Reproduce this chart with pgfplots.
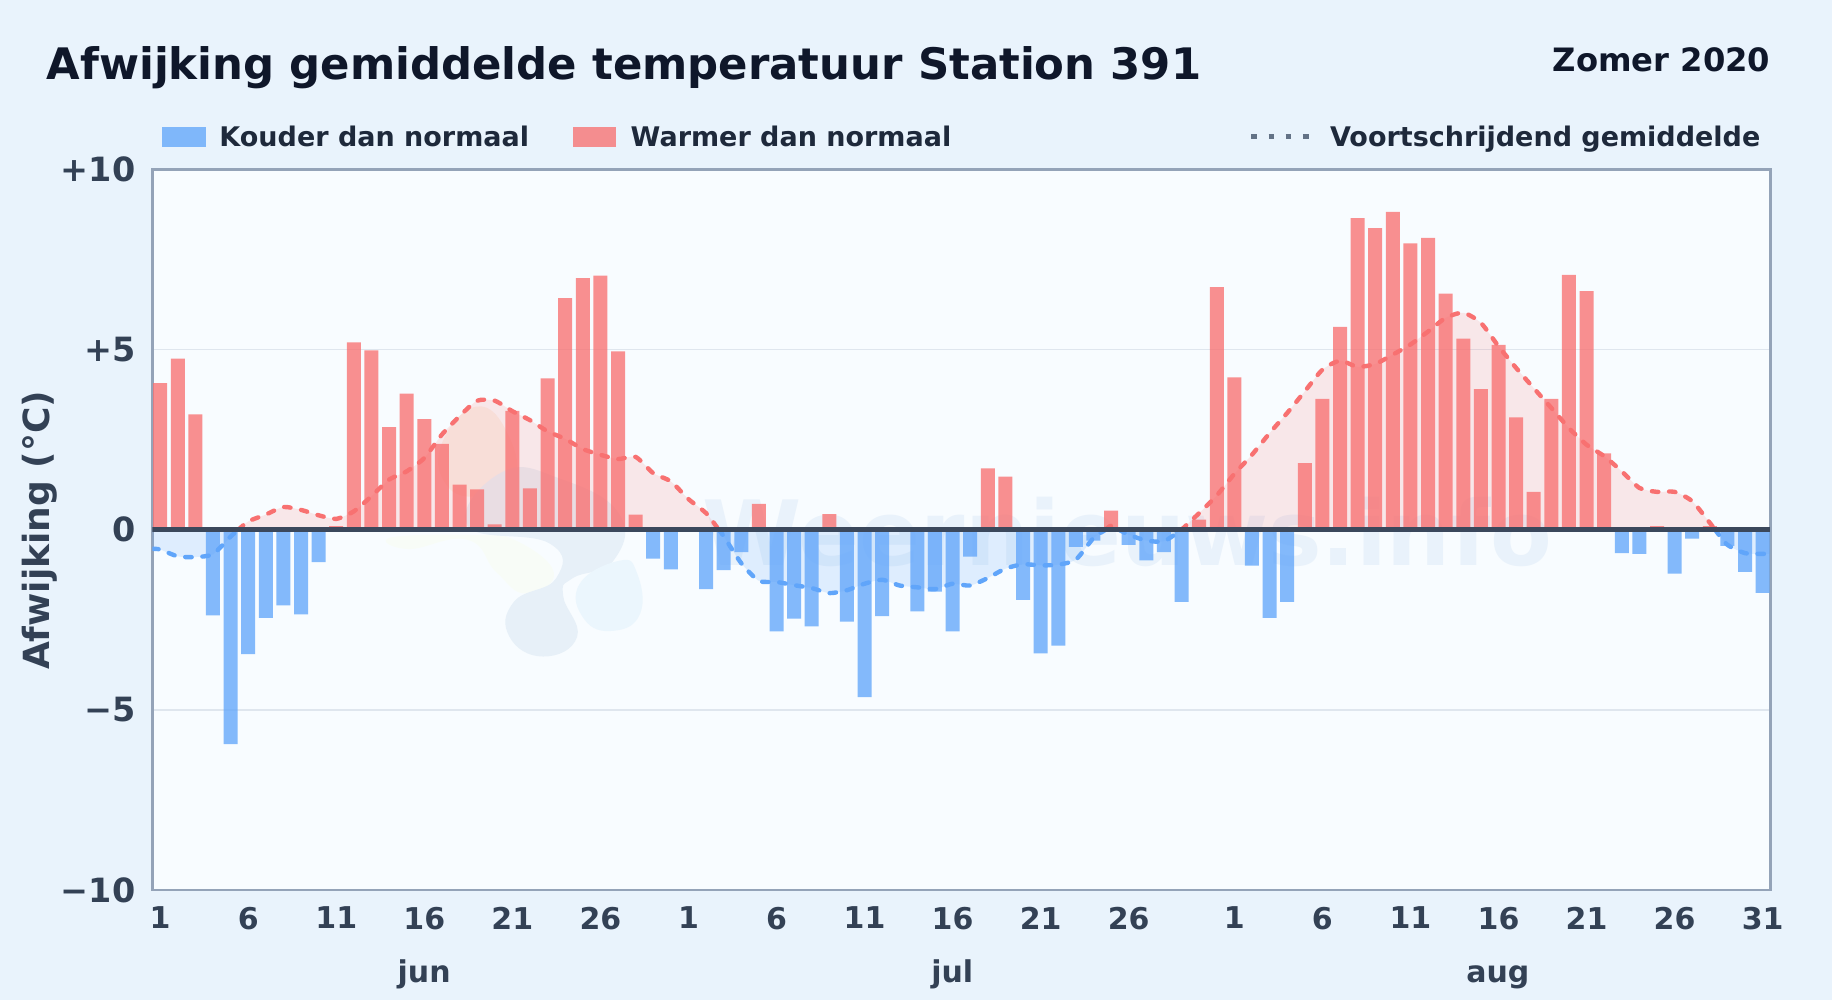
\documentclass[border=0pt]{standalone}
\usepackage{fontspec}
\setmainfont{DejaVu Sans}
\usepackage{pgfplots}
\usepackage{pgfplotstable}
\pgfplotsset{compat=1.18}

\definecolor{bgpage}{HTML}{E9F3FC}
\definecolor{bgplot}{HTML}{F8FCFF}
\definecolor{coldbar}{HTML}{60A5FA}
\definecolor{warmbar}{HTML}{F87171}
\definecolor{title}{HTML}{0F172A}
\definecolor{legtext}{HTML}{1E293B}
\definecolor{tick}{HTML}{334155}
\definecolor{frame}{HTML}{94A3B8}
\definecolor{gridc}{HTML}{DFE6EE}
\definecolor{zero}{HTML}{3B485C}
\definecolor{mark}{HTML}{E9F2FB}

% dagafwijking, dag 0 = 1 jun, dag 91 = 31 aug
\pgfplotstableread{
x y
0 4.07
1 4.75
2 3.2
10 0.1
11 5.2
12 4.98
13 2.85
14 3.78
15 3.07
16 2.38
17 1.25
18 1.12
19 0.15
20 3.3
21 1.15
22 4.2
23 6.43
24 6.98
25 7.05
26 4.95
27 0.42
34 0.72
38 0.43
47 1.7
48 1.47
54 0.53
59 0.28
60 6.73
61 4.23
65 1.85
66 3.63
67 5.63
68 8.65
69 8.37
70 8.82
71 7.95
72 8.1
73 6.55
74 5.3
75 3.9
76 5.13
77 3.12
78 1.05
79 3.63
80 7.07
81 6.62
82 2.12
85 0.1
88 0.1
}\warmbars

\pgfplotstableread{
x y
3 -2.38
4 -5.95
5 -3.45
6 -2.45
7 -2.1
8 -2.35
9 -0.9
28 -0.8
29 -1.1
31 -1.65
32 -1.12
33 -0.62
35 -2.82
36 -2.47
37 -2.68
39 -2.55
40 -4.65
41 -2.4
43 -2.27
44 -1.72
45 -2.82
46 -0.75
49 -1.95
50 -3.43
51 -3.22
52 -0.48
53 -0.3
55 -0.42
56 -0.85
57 -0.62
58 -2.0
62 -1.0
63 -2.45
64 -2.0
83 -0.65
84 -0.67
86 -1.22
87 -0.25
89 -0.45
90 -1.17
91 -1.75
}\coldbars

% voortschrijdend gemiddelde, per stuk boven of onder nul
\pgfplotstableread{
x y
-0.45 -0.53
0 -0.55
1 -0.74
2 -0.76
3 -0.68
4 -0.19
4.45 0
}\coldA
\pgfplotstableread{
x y
4.45 0
5 0.23
6 0.42
7 0.63
8 0.55
9 0.4
10 0.3
11 0.51
12 0.93
13 1.39
14 1.62
15 1.99
16 2.64
17 3.15
18 3.58
19 3.58
20 3.29
21 3.04
22 2.73
23 2.52
24 2.24
25 2.08
26 1.96
27 2.02
28 1.57
29 1.34
30 0.85
31 0.46
31.72 0
}\warmA
\pgfplotstableread{
x y
31.72 0
32 -0.18
33 -0.93
34 -1.42
35 -1.45
36 -1.54
37 -1.62
38 -1.76
39 -1.68
40 -1.5
41 -1.39
42 -1.55
43 -1.6
44 -1.65
45 -1.5
46 -1.55
47 -1.34
48 -1.08
49 -0.96
50 -0.99
51 -0.97
52 -0.83
53 -0.23
53.7 0
}\coldB
\pgfplotstableread{
x y
53.7 0
54 0.11
54.45 0
}\warmB
\pgfplotstableread{
x y
54.45 0
55 -0.14
56 -0.3
57 -0.32
58 0
}\coldC
\pgfplotstableread{
x y
58 0
59 0.46
60 0.95
61 1.55
62 2.08
63 2.68
64 3.24
65 3.84
66 4.44
67 4.69
68 4.52
69 4.6
70 4.86
71 5.14
72 5.5
73 5.88
74 6.02
75 5.74
76 5.09
77 4.49
78 3.93
79 3.38
80 2.82
81 2.36
82 2.04
83 1.62
84 1.16
85 1.05
86 1.05
87 0.79
88 0.19
88.3 0
}\warmC
\pgfplotstableread{
x y
88.3 0
89 -0.42
90 -0.65
91 -0.67
91.45 -0.67
}\coldD

\begin{document}
\begin{tikzpicture}
\begin{scope}[x=0.58418pt,y=-0.58411pt,shift={(0pt,500pt)}]
  \path[use as bounding box,fill=bgpage] (0,0) rectangle (1568,856);
  \fill[bgplot] (130.5,145) rectangle (1515.5,762);
  % watermerk: logo en naam
  \fill[color=orange!8!bgplot] plot[smooth cycle,tension=.8] coordinates {(408,348) (435,372) (440,412) (410,425) (382,415) (378,380)};
  \fill[color=green!4!yellow!3!bgplot] plot[smooth cycle,tension=.8] coordinates {(335,460) (405,458) (440,462) (474,490) (450,508) (425,490) (400,462) (350,470)};
  \fill[color=mark!80!gridc] plot[smooth cycle,tension=.8] coordinates {(430,404) (480,410) (530,440) (525,480) (490,495) (482,510) (494,545) (465,562) (436,545) (440,515) (476,495) (470,465) (400,450)};
  \fill[color=cyan!5!bgplot] plot[smooth cycle,tension=.8] coordinates {(530,480) (545,490) (548,525) (525,540) (500,530) (496,500)};
  \node[anchor=base west,inner sep=0pt,text=mark,font=\fontsize{45}{45}\selectfont\bfseries] at (601,484) {Weernieuws.info};
\end{scope}

\begin{axis}[
  at={(76.2pt,55pt)},anchor=south west,
  scale only axis,width=809pt,height=360.3pt,
  xmin=-0.44,xmax=91.44,ymin=-10,ymax=10,
  axis line style={frame,line width=1.3pt},
  ymajorgrids,grid style={gridc,line width=0.8pt},
  xtick={0,5,10,15,20,25,30,35,40,45,50,55,61,66,71,76,81,86,91},
  xticklabels={1,6,11,16,21,26,1,6,11,16,21,26,1,6,11,16,21,26,31},
  ytick={-10,-5,0,5,10},
  yticklabels={−10,−5,0,+5,+10},
  tick style={draw=none},
  xticklabel style={font=\fontsize{15}{15}\selectfont\bfseries,text=tick,yshift=-5pt},
  yticklabel style={font=\fontsize{16.7}{16.7}\selectfont\bfseries,text=tick,xshift=-5pt},
]
  \addplot[draw=none,fill=warmbar,fill opacity=.15,smooth,tension=.4,forget plot] table {\warmA} \closedcycle;
  \addplot[draw=none,fill=warmbar,fill opacity=.15,smooth,tension=.4,forget plot] table {\warmB} \closedcycle;
  \addplot[draw=none,fill=warmbar,fill opacity=.15,smooth,tension=.4,forget plot] table {\warmC} \closedcycle;
  \addplot[draw=none,fill=coldbar,fill opacity=.17,smooth,tension=.4,forget plot] table {\coldA} \closedcycle;
  \addplot[draw=none,fill=coldbar,fill opacity=.17,smooth,tension=.4,forget plot] table {\coldB} \closedcycle;
  \addplot[draw=none,fill=coldbar,fill opacity=.17,smooth,tension=.4,forget plot] table {\coldC} \closedcycle;
  \addplot[draw=none,fill=coldbar,fill opacity=.17,smooth,tension=.4,forget plot] table {\coldD} \closedcycle;

  \addplot[ybar,bar width=7pt,bar shift=0pt,draw=none,fill=warmbar,fill opacity=.78] table {\warmbars};
  \addplot[ybar,bar width=7pt,bar shift=0pt,draw=none,fill=coldbar,fill opacity=.77] table {\coldbars};

  \pgfplotsset{avg/.style={line width=2.2pt,line cap=round,dash pattern=on 3.2pt off 5.4pt,smooth,tension=.4,no markers}}
  \addplot[warmbar,avg] table {\warmA};
  \addplot[warmbar,avg] table {\warmB};
  \addplot[warmbar,avg] table {\warmC};
  \addplot[coldbar,avg] table {\coldA};
  \addplot[coldbar,avg] table {\coldB};
  \addplot[coldbar,avg] table {\coldC};
  \addplot[coldbar,avg] table {\coldD};
  \addplot[zero,line width=2.2pt,sharp plot] coordinates {(-0.44,0) (91.44,0)};
\end{axis}

\begin{scope}[x=0.58418pt,y=-0.58411pt,shift={(0pt,500pt)}]
  \node[anchor=base west,inner sep=0pt,text=title,font=\fontsize{21.7}{21.7}\selectfont\bfseries] at (39.5,68) {Afwijking gemiddelde temperatuur Station 391};
  \node[anchor=base east,inner sep=0pt,text=title,font=\fontsize{16.1}{16.1}\selectfont\bfseries] at (1515.5,61) {Zomer 2020};

  \fill[coldbar,opacity=.77] (138.5,108.5) rectangle (176.5,125.5);
  \node[anchor=base west,inner sep=0pt,text=legtext,font=\fontsize{13.5}{13.5}\selectfont\bfseries] at (187.5,125) {Kouder dan normaal};
  \fill[warmbar,opacity=.78] (490.5,108.5) rectangle (527.5,125.5);
  \node[anchor=base west,inner sep=0pt,text=legtext,font=\fontsize{13.5}{13.5}\selectfont\bfseries] at (539.5,125) {Warmer dan normaal};
  \draw[color=frame!50!tick,line width=2.2pt,dash pattern=on 2.8pt off 5.8pt] (1071,117) -- (1122,117);
  \node[anchor=base west,inner sep=0pt,text=legtext,font=\fontsize{13.5}{13.5}\selectfont\bfseries] at (1138,125) {Voortschrijdend gemiddelde};

  \node[rotate=90,anchor=center,inner sep=0pt,text=tick,font=\fontsize{18}{18}\selectfont\bfseries] at (34,454) {Afwijking (°C)};
  \node[anchor=base,inner sep=0pt,text=tick,font=\fontsize{15}{15}\selectfont\bfseries] at (363,841) {jun};
  \node[anchor=base,inner sep=0pt,text=tick,font=\fontsize{15}{15}\selectfont\bfseries] at (815,841) {jul};
  \node[anchor=base,inner sep=0pt,text=tick,font=\fontsize{15}{15}\selectfont\bfseries] at (1282,841) {aug};
\end{scope}
\end{tikzpicture}
\end{document}
